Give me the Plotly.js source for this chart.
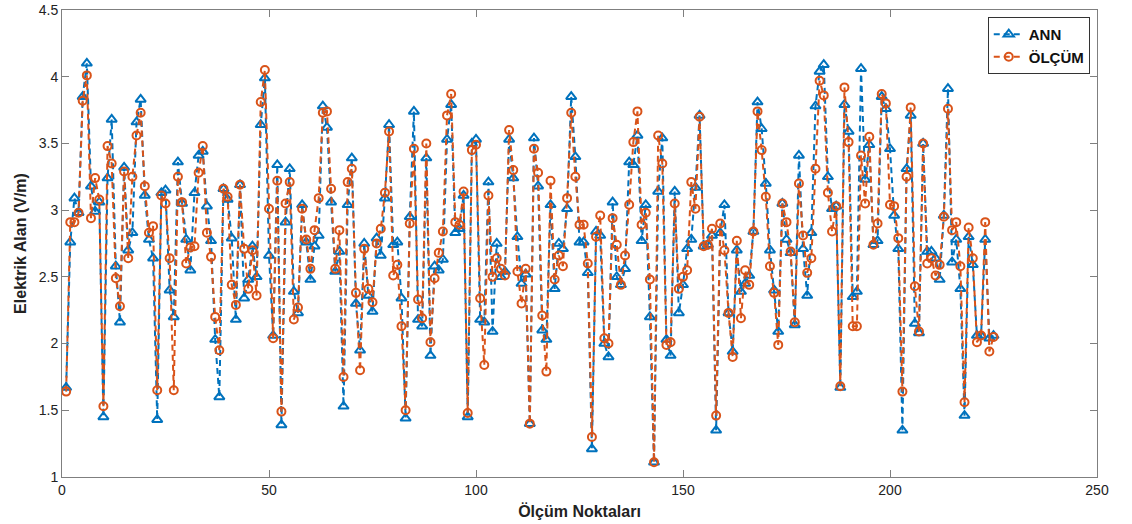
<!DOCTYPE html>
<html>
<head>
<meta charset="utf-8">
<script src="https://cdn.plot.ly/plotly-3.0.1.min.js"></script>
<style>html,body{margin:0;padding:0;background:#fff;}#chart{width:1132px;height:524px;}</style>
</head>
<body>
<div id="chart"></div>
<script>
const ann = [1.67,2.76,3.09,2.98,3.85,4.10,3.18,2.99,3.06,1.45,
3.24,3.68,2.58,2.16,3.32,2.70,2.83,3.66,3.83,3.11,
2.78,2.64,1.43,3.13,3.15,2.40,2.20,3.36,3.05,2.78,
2.55,3.13,3.41,3.44,3.03,2.77,2.03,1.60,3.16,3.08,
2.79,2.18,3.19,2.34,2.48,2.73,2.50,3.64,3.99,2.66,
2.06,3.34,1.39,2.91,3.31,2.39,2.23,3.04,2.76,2.48,
2.73,2.81,3.78,3.62,3.06,2.54,2.69,1.53,3.04,3.39,
2.30,1.95,2.75,2.36,2.24,2.79,2.66,3.09,3.64,2.74,
2.76,2.34,1.44,2.95,3.74,2.18,2.13,3.39,1.91,2.58,
2.55,2.63,3.53,3.79,2.83,2.86,3.11,1.45,3.50,3.53,
2.18,2.16,3.21,2.09,2.75,2.50,2.54,3.53,3.24,2.80,
2.45,2.52,1.40,3.54,3.18,2.10,2.03,3.04,2.41,2.75,
2.71,3.01,3.85,3.40,2.76,2.76,2.53,1.21,2.84,2.81,
2.00,1.90,3.06,2.50,2.44,2.56,3.36,3.34,3.56,2.77,
3.04,2.20,1.11,3.14,3.54,2.03,1.91,3.14,2.23,2.44,
2.71,2.78,3.17,3.71,2.73,2.74,2.81,1.35,2.83,3.04,
2.23,1.94,2.70,2.39,2.45,2.51,2.84,3.81,3.61,3.20,
2.70,2.40,2.09,3.05,2.78,2.68,2.14,3.41,2.71,2.36,
2.83,3.78,4.04,4.09,3.25,3.01,3.03,1.67,3.79,3.59,
2.35,2.39,4.06,3.23,3.49,2.74,2.77,3.85,3.76,3.46,
2.96,2.71,1.35,3.31,3.71,2.15,2.08,3.50,2.69,2.69,
2.64,2.48,2.96,3.91,2.61,2.78,2.41,1.46,2.80,2.59,
2.06,2.06,2.78,2.04,2.06];
const olcum = [1.64,2.91,2.91,2.98,3.82,4.01,2.94,3.24,3.08,1.53,
3.48,3.35,2.49,2.28,3.29,2.64,3.25,3.56,3.73,3.18,
2.83,2.88,1.65,3.11,3.05,2.64,1.65,3.25,3.06,2.60,
2.72,2.73,3.28,3.48,2.83,2.65,2.20,1.95,3.16,3.10,
2.44,2.29,3.19,2.71,2.41,2.70,2.36,3.81,4.05,3.01,
2.04,3.22,1.49,3.05,3.21,2.18,2.27,3.01,2.78,2.56,
2.85,3.09,3.73,3.74,3.16,2.56,2.85,1.75,3.21,3.31,
2.38,1.80,2.71,2.41,2.31,2.75,2.86,3.13,3.59,2.51,
2.59,2.13,1.50,2.90,3.46,2.33,2.19,3.50,2.01,2.49,
2.68,2.84,3.71,3.87,2.91,2.89,3.14,1.48,3.45,3.49,
2.34,1.84,3.11,2.50,2.64,2.56,2.51,3.60,3.30,2.54,
2.30,2.56,1.40,3.46,3.28,2.21,1.79,3.22,2.48,2.66,
2.58,3.09,3.73,3.25,2.89,2.89,2.60,1.30,2.80,2.96,
2.04,2.00,2.94,2.74,2.44,2.66,3.04,3.51,3.74,2.89,
2.98,2.48,1.11,3.56,3.35,1.99,2.01,3.05,2.41,2.50,
2.55,3.21,3.01,3.70,2.73,2.74,2.86,1.46,2.90,2.70,
2.23,1.90,2.77,2.19,2.55,2.44,2.84,3.74,3.45,3.10,
2.58,2.38,1.99,3.05,2.91,2.69,2.16,3.20,2.81,2.53,
2.64,3.31,3.97,3.86,3.13,2.84,3.03,1.68,3.92,3.51,
2.13,2.13,3.41,3.05,3.55,2.74,2.90,3.87,3.80,3.04,
3.03,2.79,1.64,3.25,3.77,2.43,2.09,3.50,2.60,2.64,
2.51,2.59,2.95,3.76,2.85,2.91,2.58,1.56,2.87,2.64,
2.01,2.06,2.91,1.94,2.05];
const points = ann.map((_, i) => i + 1);
const seriesNames = ['ANN', 'ÖLÇÜM'];
const xTicks = [0, 50, 100, 150, 200, 250];
const yTicks = [1, 1.5, 2, 2.5, 3, 3.5, 4, 4.5];

const blue = '#0072BD', orange = '#D95319';
const traces = [
  {x: points, y: ann, name: seriesNames[0], type: 'scatter', mode: 'lines+markers',
   line: {color: blue, width: 2, dash: '6px,4px'},
   marker: {symbol: 'triangle-up-open', size: 9, color: blue, line: {width: 2, color: blue}}},
  {x: points, y: olcum, name: seriesNames[1], type: 'scatter', mode: 'lines+markers',
   line: {color: orange, width: 2, dash: '6px,4px'},
   marker: {symbol: 'circle-open', size: 8, color: orange, line: {width: 2, color: orange}}}
];
const axisCommon = {showgrid: false, zeroline: false, showline: true, mirror: 'ticks',
  linecolor: '#7f7f7f', linewidth: 1, ticks: 'inside', ticklen: 7, tickcolor: '#7f7f7f',
  tickfont: {family: 'Liberation Sans, Arial, sans-serif', size: 14, color: '#222'}};
const layout = {
  width: 1132, height: 524,
  margin: {l: 62, r: 35, t: 10, b: 47},
  paper_bgcolor: '#fff', plot_bgcolor: '#fff',
  showlegend: true,
  legend: {x: 0.993, y: 0.985, xanchor: 'right', yanchor: 'top', bgcolor: '#fff',
    bordercolor: '#333', borderwidth: 1,
    font: {family: 'Liberation Sans, Arial, sans-serif', size: 15, color: '#111', weight: 'bold'},
    tracegroupgap: 0},
  xaxis: Object.assign({}, axisCommon, {range: [0, 250], tickvals: xTicks, ticktext: xTicks.map(String),
    title: {text: 'Ölçüm Noktaları', standoff: 9, font: {family: 'Liberation Sans, Arial, sans-serif', size: 16, color: '#222', weight: 'bold'}}}),
  yaxis: Object.assign({}, axisCommon, {range: [1, 4.5], tickvals: yTicks, ticktext: yTicks.map(String),
    title: {text: 'Elektrik Alan (V/m)', standoff: 8, font: {family: 'Liberation Sans, Arial, sans-serif', size: 16, color: '#222', weight: 'bold'}}})
};
Plotly.newPlot('chart', traces, layout, {displayModeBar: false, staticPlot: true});
</script>
</body>
</html>
